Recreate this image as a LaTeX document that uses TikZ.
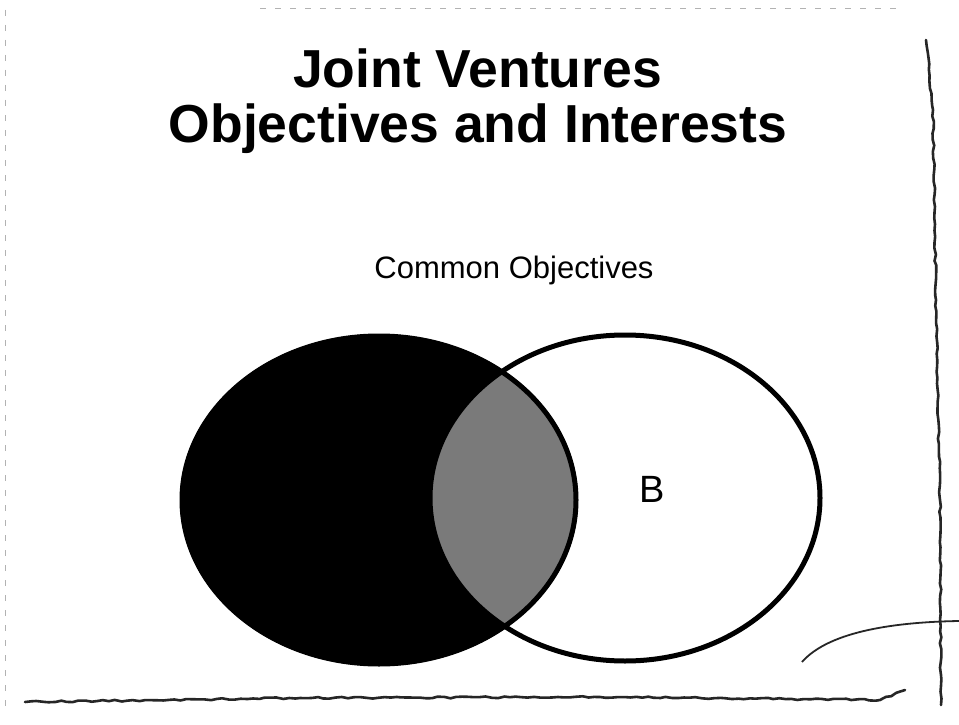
\documentclass[tikz,border=0pt]{standalone}
\usepackage{fontspec}
\setmainfont{Liberation Sans}
\usetikzlibrary{decorations.pathmorphing}
\begin{document}
\begin{tikzpicture}[x=1pt,y=-1pt,
  titletext/.style={font=\fontsize{53.5}{60}\selectfont\bfseries, inner sep=0pt, anchor=base},
  subtext/.style={font=\fontsize{31}{36}\selectfont, inner sep=0pt, anchor=base},
  sketch/.style={line width=2.6pt, black!85, decorate, decoration={random steps, segment length=6pt, amplitude=0.9pt}, line cap=round},
  faint/.style={line width=0.6pt, black!30, dash pattern=on 6pt off 9pt}]
\useasboundingbox (0,0) rectangle (959,725);
\fill[white] (0,0) rectangle (959,725);
% faint scan edges
\draw[faint] (5,10) -- (5,710);
\draw[faint] (260,8) -- (900,8);
% Venn diagram
\fill[black] (379,500) ellipse [x radius=199, y radius=166];
\begin{scope}
  \clip (379,500) ellipse [x radius=199, y radius=166];
  \fill[black!52] (625,498) ellipse [x radius=195, y radius=163];
\end{scope}
\draw[line width=5pt] (625,498) ellipse [x radius=195, y radius=163];
\draw[line width=5pt] (379,500) ellipse [x radius=197, y radius=164];
% texts
\node[titletext] (t1) at (477.5,88) {Joint Ventures};
\node[titletext] (t2) at (478,142) {Objectives and Interests};
\node[subtext] (sub) at (514,278) {Common Objectives};
\node[font=\fontsize{38}{40}\selectfont, inner sep=0pt, anchor=base] (b) at (652.5,502) {B};
% hand-drawn frame
\draw[sketch] (25,702) -- (300,698) -- (600,697) -- (880,700) -- (905,690);
\draw[sketch] (926,40) -- (933,110) -- (936,300) -- (940,500) -- (941,705);
\draw[line width=1.8pt, black!85] (802,662) .. controls (830,630) and (900,622) .. (959,621);
\end{tikzpicture}
\end{document}
